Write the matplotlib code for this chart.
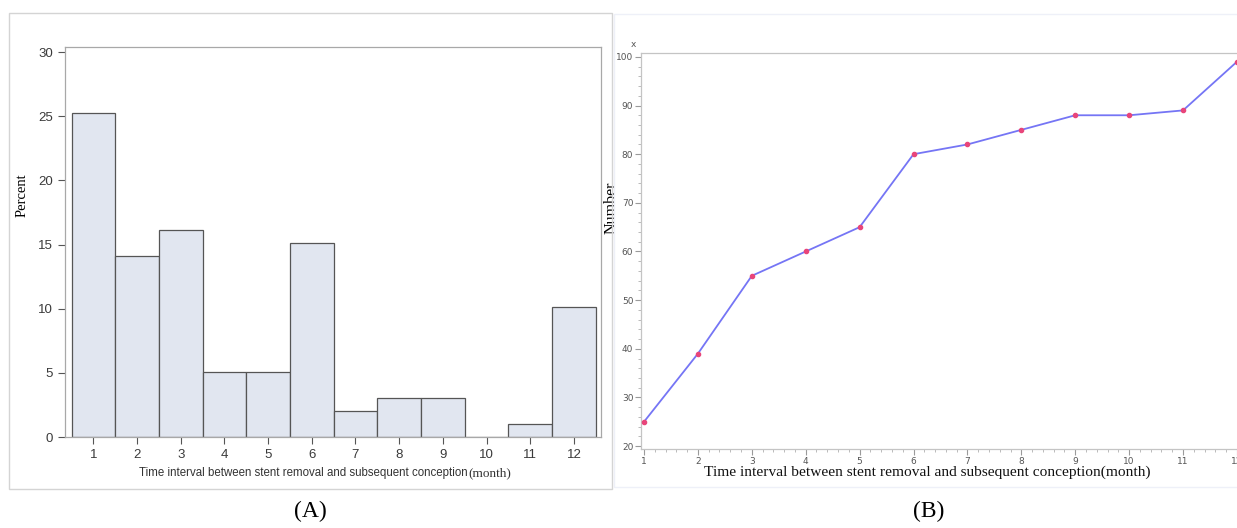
import matplotlib.pyplot as plt
from matplotlib.patches import Rectangle
from matplotlib.ticker import MultipleLocator

# Data
months = [1, 2, 3, 4, 5, 6, 7, 8, 9, 10, 11, 12]
percent = [25.25, 14.14, 16.16, 5.05, 5.05, 15.15, 2.02, 3.03, 3.03, 0, 1.01, 10.1]
cumulative = [25, 39, 55, 60, 65, 80, 82, 85, 88, 88, 89, 99]
xlabel_text = "Time interval between stent removal and subsequent conception"

serif = ["Liberation Serif", "DejaVu Serif"]
narrow = ["Liberation Sans", "DejaVu Sans"]

fig = plt.figure(figsize=(12.37, 5.28), dpi=100)

# outer frames of the two panels
fig.patches.append(Rectangle((9 / 1237, 1 - 489 / 528), 603 / 1237, 476 / 528,
                             transform=fig.transFigure, fill=False,
                             edgecolor="#d4d4d4", lw=1))
fig.patches.append(Rectangle((614 / 1237, 1 - 487 / 528), 640 / 1237, 473 / 528,
                             transform=fig.transFigure, fill=False,
                             edgecolor="#eef0f8", lw=1))

# ---- (A) histogram ----
ax1 = fig.add_axes([65 / 1237, 1 - 437 / 528, 536 / 1237, 390 / 528])
ax1.bar(months, percent, width=1.0, color="#e1e6f0", edgecolor="#555555", lw=0.9)
ax1.set_xlim(0.35, 12.62)
ax1.set_ylim(0, 30.4)
ax1.set_xticks(months)
ax1.set_yticks([0, 5, 10, 15, 20, 25, 30])
for s in ax1.spines.values():
    s.set_color("#a8a8a8")
    s.set_linewidth(0.9)
ax1.tick_params(colors="#555555", labelcolor="#3a3a3a", length=5, width=0.8,
                labelsize=9.5)
ax1.tick_params(axis="x", pad=4)
for lab in ax1.get_xticklabels() + ax1.get_yticklabels():
    lab.set_family(narrow)
ax1.set_ylabel("Percent", family=serif, fontsize=10.5, labelpad=4)
ax1.yaxis.set_label_coords(-0.068, 0.62)
fig.text(468 / 1237, 1 - 473 / 528, xlabel_text, ha="right", va="center",
         family=narrow, fontsize=8.3, color="#333333")
fig.text(468 / 1237, 1 - 473 / 528, "(month)", ha="left", va="center",
         family=serif, fontsize=9.5, color="#333333")

# ---- (B) cumulative line ----
ax2 = fig.add_axes([641 / 1237, 1 - 449 / 528, 597 / 1237, 396 / 528])
ax2.plot(months, cumulative, color="#7575f5", lw=1.3, zorder=2)
ax2.plot(months, cumulative, "o", color="#e8457a", ms=3, zorder=3)
ax2.set_xlim(0.944, 12.02)
ax2.set_ylim(19.4, 100.8)
ax2.set_xticks(months)
ax2.set_yticks(range(20, 101, 10))
ax2.xaxis.set_minor_locator(MultipleLocator(0.2))
ax2.yaxis.set_minor_locator(MultipleLocator(2))
for s in ax2.spines.values():
    s.set_color("#c4c4c4")
    s.set_linewidth(0.9)
ax2.spines["right"].set_visible(False)
ax2.tick_params(which="major", colors="#9a9a9a", labelcolor="#555555",
                length=4, width=0.8, labelsize=6.5, pad=1.5)
ax2.tick_params(which="minor", colors="#b0b0b0", length=2, width=0.6)
ax2.set_ylabel("Number", family=serif, fontsize=11.5)
ax2.yaxis.set_label_coords(-0.036, 0.61)
ax2.text(-0.012, 1.01, "x", transform=ax2.transAxes, fontsize=6.5,
         color="#555555", ha="center", va="bottom")
fig.text(927 / 1237, 1 - 472 / 528, xlabel_text + "(month)", ha="center",
         va="center", family=serif, fontsize=11.1, color="#111111")

# panel captions
fig.text(310 / 1237, 1 - 511 / 528, "(A)", ha="center", va="center",
         family=serif, fontsize=17)
fig.text(929 / 1237, 1 - 511 / 528, "(B)", ha="center", va="center",
         family=serif, fontsize=17)

fig.savefig("out.png", dpi=100)
